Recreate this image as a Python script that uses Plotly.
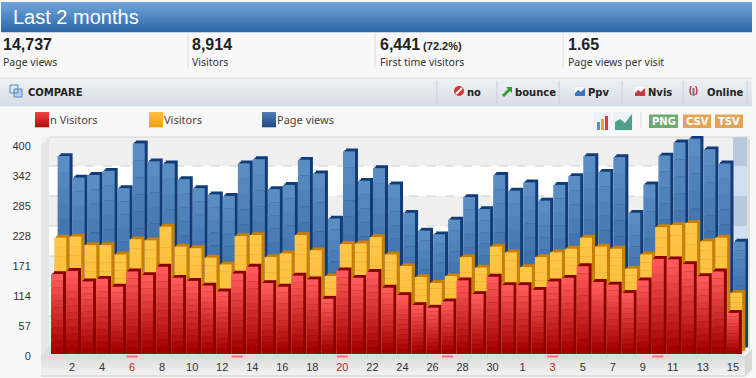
import plotly.graph_objects as go

# ---- data ----
new_visitors = [152,158,138,143,128,157,150,166,145,139,130,119,153,166,
                135,128,149,142,105,159,145,156,126,112,93,88,100,140,114,147,131,
                131,122,138,145,167,137,132,116,140,181,180,171,148,157,78]
visitors = [215,217,201,201,183,212,210,236,198,195,177,164,218,220,
            178,185,220,191,142,203,204,216,183,161,140,129,142,178,158,198,187,
            159,178,187,194,215,198,194,156,183,235,239,243,208,215,110]
page_views = [364,323,328,336,303,388,354,350,320,303,291,288,350,358,
              301,309,357,331,245,373,317,341,310,256,222,215,243,286,263,328,298,
              314,279,309,326,364,334,362,256,310,365,390,397,377,350,201]
days = list(range(1, 32)) + list(range(1, 16))
weekend_idx = [5, 12, 19, 26, 33, 40]
y_ticks = [0, 57, 114, 171, 228, 285, 342, 400]
stats = [("14,737", "", "Page views", 3), ("8,914", "", "Visitors", 192),
         ("6,441", " (72.2%)", "First time visitors", 380), ("1.65", "", "Page views per visit", 568)]
legend_items = [("n Visitors", 35, "#f04040", "#b01010"), ("Visitors", 149, "#ffc040", "#f0a010"),
                ("Page views", 262, "#4f7fb5", "#1f4a86")]
toolbar = [("no", 467, "#d02020"), ("bounce", 515, "#30a030"), ("Ppv", 588, "#4070c0"),
           ("Nvis", 648, "#c04040"), ("Online", 707, "#c02020")]
buttons = [("PNG", 649, 678, "#6fa96f"), ("CSV", 683, 711, "#e3a455"), ("TSV", 715, 743, "#e3a455")]

W, H = 756, 378
PX_X, PX_Y = 15.02, 0.525
N = 12

def mix(a, b, t):
    a = [int(a[i:i+2], 16) for i in (1, 3, 5)]
    b = [int(b[i:i+2], 16) for i in (1, 3, 5)]
    return "#%02x%02x%02x" % tuple(round(p + (q - p) * t) for p, q in zip(a, b))

def px(x): return x / W
def py(y): return 1 - y / H

shapes, anns = [], []

def rect(x0, y0, x1, y1, color, **kw):
    shapes.append(dict(type="rect", xref="paper", yref="paper", x0=px(x0), x1=px(x1),
                       y0=py(y0), y1=py(y1), fillcolor=color, line_width=0, layer="below", **kw))

def grad(x0, y0, x1, y1, c0, c1, n=None):
    n = n or max(2, int(y1 - y0))
    for k in range(n):
        rect(x0, y0 + (y1 - y0) * k / n, x1, y0 + (y1 - y0) * (k + 1) / n + 0.3, mix(c0, c1, k / max(1, n - 1)))

def poly(points, color):
    path = "M " + " L ".join(f"{px(a)},{py(b)}" for a, b in points) + " Z"
    shapes.append(dict(type="path", xref="paper", yref="paper", path=path, fillcolor=color, line_width=0, layer="below"))

def line(x0, y0, x1, y1, color, dash="solid", w=1):
    shapes.append(dict(type="line", xref="paper", yref="paper", x0=px(x0), x1=px(x1), y0=py(y0), y1=py(y1),
                       line=dict(color=color, width=w, dash=dash), layer="below"))

def text(x, y, s, size=11, color="#333333", font="Liberation Sans", anchor="left"):
    anns.append(dict(xref="paper", yref="paper", x=px(x), y=py(y), text=s, showarrow=False, xanchor=anchor,
                     yanchor="middle", xshift=0, font=dict(family=font, size=size, color=color), borderpad=0, borderwidth=0))

# page
rect(0, 0, W, H, "#f8f8f8")
# header
grad(1, 2, 752, 32, "#6fa4da", "#2d69a8")
text(13, 17, "Last 2 months", 20, "#ffffff")
# stats
for big, small, lab, x in stats:
    s = f"<b>{big}</b>" + (f"<b><span style='font-size:11px'>{small}</span></b>" if small else "")
    text(x, 44, s, 16, "#222222")
    text(x, 62, lab, 10.5, "#333333", "Noto Sans")
for x in (188, 375, 563):
    line(x, 33, x, 68, "#dddddd")
# compare bar
line(0, 78, 752, 78, "#dcdcdc")
grad(0, 79, 752, 106, "#eef1f5", "#d7dde6")
rect(10, 85, 18, 93, "#dfe8f4", )
rect(14, 89, 22, 97, "#bcd0ea")
shapes.append(dict(type="rect", xref="paper", yref="paper", x0=px(10), x1=px(18), y0=py(85), y1=py(93),
                   line=dict(color="#5588bb", width=1), layer="below"))
shapes.append(dict(type="rect", xref="paper", yref="paper", x0=px(14), x1=px(22), y0=py(89), y1=py(97),
                   line=dict(color="#5588bb", width=1), layer="below"))
text(28, 92, "<b>COMPARE</b>", 10, "#222222", "DejaVu Sans")
for x in (437, 497, 559, 622, 683, 747):
    line(x, 81, x, 104, "#c9ced6")
for lab, x, col in toolbar:
    text(x, 92, f"<b>{lab}</b>", 10, "#222222", "DejaVu Sans")
shapes.append(dict(type="circle", xref="paper", yref="paper", x0=px(454), x1=px(464), y0=py(86), y1=py(96),
                   fillcolor="#e03030", line_width=0, layer="below"))
line(456, 94, 462, 88, "#ffffff", w=2)
line(503, 96, 511, 88, "#30a030", w=3)
poly([(506, 87), (512, 87), (512, 93)], "#30a030")
for x0, c in ((575, "#4070c0"), (635, "#c04040")):
    rect(x0, 87, x0 + 10, 96, "#f4f6fa")
    poly([(x0, 96), (x0, 93), (x0 + 3, 90), (x0 + 6, 92), (x0 + 10, 88), (x0 + 10, 96)], c)
text(689, 90, "<b>(</b>", 9, "#c02020")
text(695, 90, "<b>)</b>", 9, "#c02020")
rect(692.5, 88, 694.5, 96, "#777777")
# legend
for lab, x, c0, c1 in legend_items:
    grad(x, 112, x + 14, 127, c0, c1)
    text(x + 15, 119, lab, 11, "#444444", "Noto Sans")
# chart-type icons and buttons
rect(593, 112, 611, 131, "#eef2f7")
rect(613, 112, 633, 131, "#eef2f7")
rect(597, 122, 600, 130, "#5b8fc7")
rect(601, 119, 604, 130, "#e9a030")
rect(605, 116, 608, 130, "#d04040")
poly([(615, 130), (615, 122), (620, 119), (625, 123), (632, 114), (632, 130)], "#4f9f8a")
line(641, 112, 641, 128, "#dddddd")
for lab, x0, x1, col in buttons:
    rect(x0, 114.5, x1, 128, col)
    text((x0 + x1) / 2, 121.5, f"<b>{lab}</b>", 10, "#ffffff", "DejaVu Sans", "center")
# chart frame and walls
rect(41, 137, 750, 376, "#f2f2f2")
rect(49, 137, 750, 346, "#ffffff")
for k, yy in enumerate((137, 166, 196, 226, 256, 286, 316)):
    y2 = (166, 196, 226, 256, 286, 316, 346)[k]
    rect(49, yy, 733, y2, "#efefef" if k % 2 == 0 else "#ffffff")
    rect(733, yy, 747, y2, "#b9c8dc" if k % 2 == 0 else "#d2dfee")
for yy in (166, 196, 226, 256, 286, 316):
    line(49, yy, 733, yy, "#d0d0d0", "dash")
poly([(41, 146), (49, 137), (49, 346), (41, 356)], "#e6e6e6")
poly([(41, 356), (49, 346), (748, 346), (741, 356)], "#dedede")
poly([(747, 137), (750, 140), (750, 350), (747, 346)], "#dddddd")
grad(41, 356, 745, 376, "#dcdcdc", "#f3f3f3")
poly([(745, 356), (752, 349), (752, 370), (745, 376)], "#d8d8d8")
line(41, 376, 745, 376, "#c8c8c8")
line(49, 137, 750, 137, "#d6d6d6")
for i in weekend_idx:
    x = 57 + PX_X * i
    rect(x - 5.5, 355.5, x + 5.5, 357.5, "#f07080")

fig = go.Figure()

def series(values, shift_px, base_px, top, bottom, side):
    xs = [i + shift_px / PX_X for i in range(len(values))]
    base = base_px / PX_Y
    depth = 3.0
    for frac in (1.0, 0.5):
        fig.add_bar(x=[x + depth * frac / PX_X for x in xs],
                    y=[v + depth * frac / PX_Y for v in values], base=[base] * len(values),
                    width=12 / PX_X, marker=dict(color=side, line_width=0), hoverinfo="skip", showlegend=False)
    for k in range(N):
        fig.add_bar(x=xs, y=[v / N + 0.3 for v in values],
                    base=[base + v * (N - 1 - k) / N for v in values], width=12 / PX_X,
                    marker=dict(color=mix(top, bottom, k / (N - 1)), line_width=0),
                    hoverinfo="skip", showlegend=False)

series(page_views, 6.6, 8.7, "#5a8dc2", "#1f4f94", "#123c78")
series(visitors, 3.3, 5.3, "#ffc648", "#f9b22c", "#c98000")
series(new_visitors, 0, 2, "#ff5a5a", "#a20000", "#8a0000")

tick_idx = list(range(1, len(days), 2))
tick_text = [f"<span style='color:#c02020'>{days[i]}</span>" if i in weekend_idx else str(days[i]) for i in tick_idx]

fig.update_layout(
    width=W, height=H, margin=dict(l=0, r=0, t=0, b=0, autoexpand=False), paper_bgcolor="#f8f8f8",
    plot_bgcolor="rgba(0,0,0,0)",
    barmode="overlay", showlegend=False, shapes=shapes, annotations=anns,
    font=dict(family="Liberation Sans", size=11, color="#333333"),
    xaxis=dict(domain=[41 / W, 748 / W], range=[(41 - 57) / PX_X, (748 - 57) / PX_X], tickmode="array",
               tickvals=tick_idx, ticktext=tick_text, showgrid=False, zeroline=False, showline=False,
               ticks="outside", ticklen=1, tickcolor="rgba(0,0,0,0)", tickangle=0,
               tickfont=dict(size=11, color="#333333")),
    yaxis=dict(domain=[1 - 356 / H, 1 - 130 / H], range=[0, 226 / PX_Y], tickmode="array", tickvals=y_ticks,
               showgrid=False, zeroline=False, showline=False, ticks="outside", ticklen=7,
               tickcolor="rgba(0,0,0,0)", tickfont=dict(size=11, color="#333333")),
)
fig.write_html("out.html", config=dict(displayModeBar=False),
               post_script="document.body.style.margin='0';document.body.style.overflow='hidden';")
